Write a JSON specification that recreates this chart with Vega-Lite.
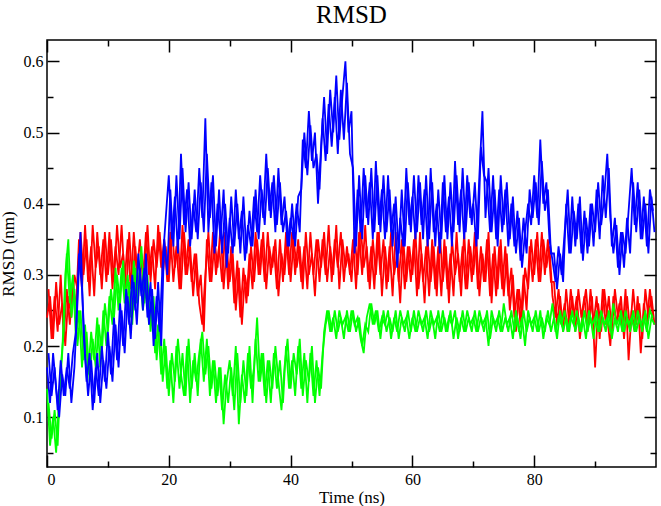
{
"$schema": "https://vega.github.io/schema/vega-lite/v6.json",
"width": 609, "height": 427,
"autosize": {"type": "none"},
"padding": {"left": 47, "top": 40, "right": 5, "bottom": 39},
"background": "white",
"title": {"text": "RMSD", "font": "Liberation Serif", "fontSize": 25, "fontWeight": "normal", "color": "#000", "anchor": "middle", "frame": "group", "offset": -9, "baseline": "alphabetic"},
"config": {
  "view": {"stroke": "#000", "strokeWidth": 1.5},
  "axis": {"domain": false, "grid": false, "labelFont": "Liberation Serif", "titleFont": "Liberation Serif", "labelFontSize": 16, "titleFontSize": 17, "titleFontWeight": "normal", "labelColor": "#000", "titleColor": "#000", "tickColor": "#000", "tickWidth": 1.5}
},
"data": {"values": [
{"p":0,"t":0,"r":0.24,"g":0.14,"b":0.17},{"p":0,"t":0.5,"r":0.27,"g":0.06,"b":0.12},{"p":0,"t":1,"r":0.21,"g":0.10,"b":0.19},{"p":0,"t":1.5,"r":0.29,"g":0.05,"b":0.14},{"p":0,"t":2,"r":0.23,"g":0.13,"b":0.10},{"p":0,"t":2.5,"r":0.26,"g":0.19,"b":0.16},{"p":0,"t":3,"r":0.20,"g":0.30,"b":0.13},{"p":0,"t":3.5,"r":0.27,"g":0.35,"b":0.19},{"p":0,"t":4,"r":0.24,"g":0.24,"b":0.12},{"p":0,"t":4.5,"r":0.30,"g":0.28,"b":0.17},
{"p":0,"t":5,"r":0.28,"g":0.20,"b":0.26},{"p":0,"t":5.5,"r":0.36,"g":0.25,"b":0.36},{"p":0,"t":6,"r":0.30,"g":0.18,"b":0.22},{"p":0,"t":6.5,"r":0.35,"g":0.22,"b":0.15},{"p":0,"t":7,"r":0.27,"g":0.15,"b":0.19},{"p":0,"t":7.5,"r":0.37,"g":0.21,"b":0.11},{"p":0,"t":8,"r":0.31,"g":0.17,"b":0.17},{"p":0,"t":8.5,"r":0.34,"g":0.23,"b":0.13},{"p":0,"t":9,"r":0.28,"g":0.19,"b":0.20},{"p":0,"t":9.5,"r":0.36,"g":0.26,"b":0.15},
{"p":0,"t":10,"r":0.30,"g":0.22,"b":0.22},{"p":0,"t":10.5,"r":0.35,"g":0.28,"b":0.16},{"p":0,"t":11,"r":0.29,"g":0.24,"b":0.24},{"p":0,"t":11.5,"r":0.37,"g":0.30,"b":0.18},{"p":0,"t":12,"r":0.31,"g":0.26,"b":0.26},{"p":0,"t":12.5,"r":0.33,"g":0.32,"b":0.20},{"p":0,"t":13,"r":0.27,"g":0.25,"b":0.28},{"p":0,"t":13.5,"r":0.36,"g":0.29,"b":0.23},{"p":0,"t":14,"r":0.29,"g":0.23,"b":0.30},{"p":0,"t":14.5,"r":0.34,"g":0.31,"b":0.25},
{"p":0,"t":15,"r":0.28,"g":0.27,"b":0.33},{"p":0,"t":15.5,"r":0.33,"g":0.34,"b":0.27},{"p":0,"t":16,"r":0.30,"g":0.26,"b":0.31},{"p":0,"t":16.5,"r":0.37,"g":0.30,"b":0.24},{"p":0,"t":17,"r":0.29,"g":0.22,"b":0.29},{"p":0,"t":17.5,"r":0.35,"g":0.27,"b":0.20},{"p":0,"t":18,"r":0.31,"g":0.18,"b":0.27},{"p":0,"t":18.5,"r":0.36,"g":0.24,"b":0.22},{"p":0,"t":19,"r":0.30,"g":0.15,"b":0.32},{"p":0,"t":19.5,"r":0.34,"g":0.20,"b":0.38},
{"p":0,"t":20,"r":0.29,"g":0.13,"b":0.44},{"p":0,"t":20.5,"r":0.37,"g":0.19,"b":0.35},{"p":0,"t":21,"r":0.31,"g":0.15,"b":0.41},{"p":0,"t":21.5,"r":0.35,"g":0.21,"b":0.33},{"p":0,"t":22,"r":0.28,"g":0.16,"b":0.47},{"p":0,"t":22.5,"r":0.36,"g":0.13,"b":0.37},{"p":0,"t":23,"r":0.30,"g":0.20,"b":0.42},{"p":0,"t":23.5,"r":0.34,"g":0.12,"b":0.34},{"p":0,"t":24,"r":0.27,"g":0.18,"b":0.40},{"p":0,"t":24.5,"r":0.33,"g":0.15,"b":0.36},
{"p":0,"t":25,"r":0.26,"g":0.19,"b":0.45},{"p":0,"t":25.5,"r":0.23,"g":0.22,"b":0.38},{"p":0,"t":26,"r":0.30,"g":0.16,"b":0.52},{"p":0,"t":26.5,"r":0.36,"g":0.20,"b":0.36},{"p":0,"t":27,"r":0.29,"g":0.14,"b":0.43},{"p":0,"t":27.5,"r":0.35,"g":0.18,"b":0.33},{"p":0,"t":28,"r":0.31,"g":0.13,"b":0.40},{"p":0,"t":28.5,"r":0.37,"g":0.17,"b":0.35},{"p":0,"t":29,"r":0.28,"g":0.09,"b":0.42},{"p":0,"t":29.5,"r":0.34,"g":0.15,"b":0.31},
{"p":0,"t":30,"r":0.29,"g":0.18,"b":0.38},{"p":0,"t":30.5,"r":0.33,"g":0.13,"b":0.33},{"p":0,"t":31,"r":0.25,"g":0.20,"b":0.42},{"p":0,"t":31.5,"r":0.31,"g":0.09,"b":0.35},{"p":0,"t":32,"r":0.23,"g":0.16,"b":0.39},{"p":0,"t":32.5,"r":0.30,"g":0.12,"b":0.32},{"p":0,"t":33,"r":0.27,"g":0.19,"b":0.37},{"p":0,"t":33.5,"r":0.34,"g":0.14,"b":0.34},{"p":0,"t":34,"r":0.29,"g":0.17,"b":0.41},{"p":0,"t":34.5,"r":0.35,"g":0.24,"b":0.36},
{"p":0,"t":35,"r":0.30,"g":0.15,"b":0.44},{"p":0,"t":35.5,"r":0.36,"g":0.19,"b":0.38},{"p":0,"t":36,"r":0.28,"g":0.12,"b":0.47},{"p":0,"t":36.5,"r":0.34,"g":0.18,"b":0.39},{"p":0,"t":37,"r":0.31,"g":0.14,"b":0.43},{"p":0,"t":37.5,"r":0.35,"g":0.20,"b":0.36},{"p":0,"t":38,"r":0.27,"g":0.15,"b":0.45},{"p":0,"t":38.5,"r":0.33,"g":0.11,"b":0.37},{"p":0,"t":39,"r":0.30,"g":0.17,"b":0.41},{"p":0,"t":39.5,"r":0.36,"g":0.21,"b":0.34},
{"p":0,"t":40,"r":0.29,"g":0.14,"b":0.38},{"p":0,"t":40.5,"r":0.35,"g":0.19,"b":0.35},{"p":0,"t":41,"r":0.31,"g":0.16,"b":0.40},{"p":0,"t":41.5,"r":0.34,"g":0.21,"b":0.36},{"p":0,"t":42,"r":0.28,"g":0.13,"b":0.49},{"p":0,"t":42.5,"r":0.36,"g":0.18,"b":0.45},{"p":0,"t":43,"r":0.30,"g":0.15,"b":0.53},{"p":0,"t":43.5,"r":0.33,"g":0.20,"b":0.46},{"p":0,"t":44,"r":0.27,"g":0.12,"b":0.50},{"p":0,"t":44.5,"r":0.35,"g":0.17,"b":0.40},
{"p":0,"t":45,"r":0.31,"g":0.14,"b":0.48},{"p":0,"t":45.5,"r":0.36,"g":0.22,"b":0.55},{"p":0,"t":46,"r":0.29,"g":0.25,"b":0.47},{"p":0,"t":46.5,"r":0.34,"g":0.22,"b":0.56},{"p":0,"t":47,"r":0.30,"g":0.24,"b":0.50},{"p":0,"t":47.5,"r":0.37,"g":0.21,"b":0.58},{"p":0,"t":48,"r":0.28,"g":0.25,"b":0.49},{"p":0,"t":48.5,"r":0.35,"g":0.23,"b":0.55},{"p":0,"t":49,"r":0.31,"g":0.24,"b":0.60},{"p":0,"t":49.5,"r":0.33,"g":0.22,"b":0.50},
{"p":0,"t":50,"r":0.29,"g":0.25,"b":0.53},{"p":0,"t":50.5,"r":0.36,"g":0.23,"b":0.33},{"p":0,"t":51,"r":0.30,"g":0.24,"b":0.42},{"p":0,"t":51.5,"r":0.37,"g":0.21,"b":0.36},{"p":0,"t":52,"r":0.31,"g":0.19,"b":0.45},{"p":0,"t":52.5,"r":0.34,"g":0.24,"b":0.38},{"p":0,"t":53,"r":0.28,"g":0.26,"b":0.43},{"p":0,"t":53.5,"r":0.35,"g":0.23,"b":0.35},{"p":0,"t":54,"r":0.30,"g":0.25,"b":0.46},{"p":0,"t":54.5,"r":0.36,"g":0.22,"b":0.37},
{"p":0,"t":55,"r":0.27,"g":0.24,"b":0.42},{"p":0,"t":55.5,"r":0.34,"g":0.23,"b":0.35},{"p":0,"t":56,"r":0.29,"g":0.25,"b":0.44},{"p":0,"t":56.5,"r":0.36,"g":0.21,"b":0.36},{"p":0,"t":57,"r":0.30,"g":0.24,"b":0.40},{"p":0,"t":57.5,"r":0.33,"g":0.22,"b":0.31},{"p":0,"t":58,"r":0.26,"g":0.25,"b":0.38},{"p":0,"t":58.5,"r":0.35,"g":0.23,"b":0.34},{"p":0,"t":59,"r":0.29,"g":0.24,"b":0.45},{"p":0,"t":59.5,"r":0.34,"g":0.21,"b":0.37},
{"p":0,"t":60,"r":0.30,"g":0.24,"b":0.41},{"p":0,"t":60.5,"r":0.36,"g":0.22,"b":0.35},{"p":0,"t":61,"r":0.28,"g":0.25,"b":0.44},{"p":0,"t":61.5,"r":0.33,"g":0.23,"b":0.37},{"p":0,"t":62,"r":0.26,"g":0.24,"b":0.42},{"p":0,"t":62.5,"r":0.35,"g":0.21,"b":0.34},{"p":0,"t":63,"r":0.29,"g":0.25,"b":0.45},{"p":0,"t":63.5,"r":0.34,"g":0.23,"b":0.36},{"p":0,"t":64,"r":0.27,"g":0.24,"b":0.40},{"p":0,"t":64.5,"r":0.36,"g":0.22,"b":0.33},
{"p":0,"t":65,"r":0.29,"g":0.25,"b":0.43},{"p":0,"t":65.5,"r":0.34,"g":0.22,"b":0.36},{"p":0,"t":66,"r":0.26,"g":0.24,"b":0.41},{"p":0,"t":66.5,"r":0.35,"g":0.23,"b":0.34},{"p":0,"t":67,"r":0.30,"g":0.25,"b":0.46},{"p":0,"t":67.5,"r":0.33,"g":0.21,"b":0.37},{"p":0,"t":68,"r":0.27,"g":0.24,"b":0.42},{"p":0,"t":68.5,"r":0.36,"g":0.22,"b":0.35},{"p":0,"t":69,"r":0.28,"g":0.25,"b":0.44},{"p":0,"t":69.5,"r":0.34,"g":0.23,"b":0.38},
{"p":0,"t":70,"r":0.30,"g":0.24,"b":0.40},{"p":0,"t":70.5,"r":0.35,"g":0.22,"b":0.34},{"p":0,"t":71,"r":0.27,"g":0.25,"b":0.44},{"p":0,"t":71.5,"r":0.33,"g":0.23,"b":0.53},{"p":0,"t":72,"r":0.29,"g":0.24,"b":0.38},{"p":0,"t":72.5,"r":0.36,"g":0.20,"b":0.45},{"p":0,"t":73,"r":0.26,"g":0.25,"b":0.36},{"p":0,"t":73.5,"r":0.34,"g":0.23,"b":0.42},{"p":0,"t":74,"r":0.28,"g":0.24,"b":0.34},{"p":0,"t":74.5,"r":0.35,"g":0.22,"b":0.44},
{"p":0,"t":75,"r":0.27,"g":0.26,"b":0.37},{"p":0,"t":75.5,"r":0.33,"g":0.23,"b":0.43},{"p":0,"t":76,"r":0.25,"g":0.24,"b":0.35},{"p":0,"t":76.5,"r":0.30,"g":0.21,"b":0.41},{"p":0,"t":77,"r":0.22,"g":0.25,"b":0.33},{"p":0,"t":77.5,"r":0.28,"g":0.22,"b":0.38},{"p":0,"t":78,"r":0.24,"g":0.24,"b":0.31},{"p":0,"t":78.5,"r":0.31,"g":0.20,"b":0.36},{"p":0,"t":79,"r":0.28,"g":0.25,"b":0.40},{"p":0,"t":79.5,"r":0.35,"g":0.23,"b":0.37},
{"p":0,"t":80,"r":0.30,"g":0.24,"b":0.44},{"p":0,"t":80.5,"r":0.36,"g":0.22,"b":0.38},{"p":0,"t":81,"r":0.29,"g":0.25,"b":0.49},{"p":0,"t":81.5,"r":0.35,"g":0.21,"b":0.40},{"p":0,"t":82,"r":0.31,"g":0.24,"b":0.43},{"p":0,"t":82.5,"r":0.34,"g":0.23,"b":0.35},{"p":0,"t":83,"r":0.27,"g":0.26,"b":0.32},{"p":0,"t":83.5,"r":0.24,"g":0.22,"b":0.29},{"p":0,"t":84,"r":0.28,"g":0.24,"b":0.34},{"p":0,"t":84.5,"r":0.23,"g":0.23,"b":0.30},
{"p":0,"t":85,"r":0.26,"g":0.25,"b":0.36},{"p":0,"t":85.5,"r":0.22,"g":0.22,"b":0.42},{"p":0,"t":86,"r":0.28,"g":0.24,"b":0.33},{"p":0,"t":86.5,"r":0.24,"g":0.23,"b":0.39},{"p":0,"t":87,"r":0.27,"g":0.25,"b":0.35},{"p":0,"t":87.5,"r":0.21,"g":0.22,"b":0.41},{"p":0,"t":88,"r":0.25,"g":0.24,"b":0.32},{"p":0,"t":88.5,"r":0.28,"g":0.21,"b":0.38},{"p":0,"t":89,"r":0.23,"g":0.25,"b":0.34},{"p":0,"t":89.5,"r":0.27,"g":0.23,"b":0.40},
{"p":0,"t":90,"r":0.17,"g":0.24,"b":0.36},{"p":0,"t":90.5,"r":0.26,"g":0.22,"b":0.43},{"p":0,"t":91,"r":0.22,"g":0.25,"b":0.37},{"p":0,"t":91.5,"r":0.28,"g":0.23,"b":0.41},{"p":0,"t":92,"r":0.24,"g":0.24,"b":0.47},{"p":0,"t":92.5,"r":0.20,"g":0.22,"b":0.38},{"p":0,"t":93,"r":0.27,"g":0.26,"b":0.33},{"p":0,"t":93.5,"r":0.23,"g":0.23,"b":0.37},{"p":0,"t":94,"r":0.26,"g":0.24,"b":0.30},{"p":0,"t":94.5,"r":0.22,"g":0.22,"b":0.36},
{"p":0,"t":95,"r":0.28,"g":0.25,"b":0.33},{"p":0,"t":95.5,"r":0.18,"g":0.23,"b":0.39},{"p":0,"t":96,"r":0.25,"g":0.24,"b":0.45},{"p":0,"t":96.5,"r":0.22,"g":0.22,"b":0.37},{"p":0,"t":97,"r":0.27,"g":0.25,"b":0.43},{"p":0,"t":97.5,"r":0.19,"g":0.23,"b":0.35},{"p":0,"t":98,"r":0.26,"g":0.24,"b":0.41},{"p":0,"t":98.5,"r":0.23,"g":0.22,"b":0.34},{"p":0,"t":99,"r":0.28,"g":0.25,"b":0.42},{"p":0,"t":99.5,"r":0.24,"g":0.24,"b":0.39},
{"p":1,"t":0.25,"r":0.28,"g":0.12,"b":0.19},{"p":1,"t":0.75,"r":0.21,"g":0.07,"b":0.13},{"p":1,"t":1.25,"r":0.27,"g":0.11,"b":0.17},{"p":1,"t":1.75,"r":0.22,"g":0.06,"b":0.11},{"p":1,"t":2.25,"r":0.30,"g":0.17,"b":0.18},{"p":1,"t":2.75,"r":0.21,"g":0.22,"b":0.13},{"p":1,"t":3.25,"r":0.28,"g":0.33,"b":0.17},{"p":1,"t":3.75,"r":0.23,"g":0.26,"b":0.14},{"p":1,"t":4.25,"r":0.29,"g":0.30,"b":0.19},{"p":1,"t":4.75,"r":0.25,"g":0.21,"b":0.22},
{"p":1,"t":5.25,"r":0.35,"g":0.25,"b":0.33},{"p":1,"t":5.75,"r":0.28,"g":0.17,"b":0.28},{"p":1,"t":6.25,"r":0.37,"g":0.23,"b":0.19},{"p":1,"t":6.75,"r":0.29,"g":0.16,"b":0.13},{"p":1,"t":7.25,"r":0.34,"g":0.22,"b":0.18},{"p":1,"t":7.75,"r":0.27,"g":0.18,"b":0.12},{"p":1,"t":8.25,"r":0.36,"g":0.24,"b":0.19},{"p":1,"t":8.75,"r":0.30,"g":0.17,"b":0.12},{"p":1,"t":9.25,"r":0.35,"g":0.25,"b":0.18},{"p":1,"t":9.75,"r":0.29,"g":0.20,"b":0.14},
{"p":1,"t":10.25,"r":0.36,"g":0.27,"b":0.20},{"p":1,"t":10.75,"r":0.28,"g":0.23,"b":0.15},{"p":1,"t":11.25,"r":0.34,"g":0.31,"b":0.23},{"p":1,"t":11.75,"r":0.30,"g":0.25,"b":0.17},{"p":1,"t":12.25,"r":0.37,"g":0.31,"b":0.25},{"p":1,"t":12.75,"r":0.29,"g":0.26,"b":0.19},{"p":1,"t":13.25,"r":0.35,"g":0.30,"b":0.27},{"p":1,"t":13.75,"r":0.28,"g":0.24,"b":0.21},{"p":1,"t":14.25,"r":0.36,"g":0.32,"b":0.29},{"p":1,"t":14.75,"r":0.30,"g":0.26,"b":0.23},
{"p":1,"t":15.25,"r":0.35,"g":0.31,"b":0.31},{"p":1,"t":15.75,"r":0.29,"g":0.25,"b":0.25},{"p":1,"t":16.25,"r":0.36,"g":0.29,"b":0.33},{"p":1,"t":16.75,"r":0.30,"g":0.23,"b":0.23},{"p":1,"t":17.25,"r":0.34,"g":0.26,"b":0.28},{"p":1,"t":17.75,"r":0.28,"g":0.19,"b":0.21},{"p":1,"t":18.25,"r":0.37,"g":0.23,"b":0.29},{"p":1,"t":18.75,"r":0.31,"g":0.16,"b":0.20},{"p":1,"t":19.25,"r":0.35,"g":0.21,"b":0.35},{"p":1,"t":19.75,"r":0.29,"g":0.14,"b":0.30},
{"p":1,"t":20.25,"r":0.36,"g":0.18,"b":0.42},{"p":1,"t":20.75,"r":0.29,"g":0.12,"b":0.34},{"p":1,"t":21.25,"r":0.34,"g":0.20,"b":0.44},{"p":1,"t":21.75,"r":0.28,"g":0.14,"b":0.35},{"p":1,"t":22.25,"r":0.37,"g":0.19,"b":0.45},{"p":1,"t":22.75,"r":0.30,"g":0.13,"b":0.36},{"p":1,"t":23.25,"r":0.35,"g":0.21,"b":0.43},{"p":1,"t":23.75,"r":0.29,"g":0.14,"b":0.35},{"p":1,"t":24.25,"r":0.33,"g":0.19,"b":0.42},{"p":1,"t":24.75,"r":0.27,"g":0.13,"b":0.35},
{"p":1,"t":25.25,"r":0.30,"g":0.21,"b":0.43},{"p":1,"t":25.75,"r":0.22,"g":0.15,"b":0.36},{"p":1,"t":26.25,"r":0.35,"g":0.21,"b":0.47},{"p":1,"t":26.75,"r":0.29,"g":0.13,"b":0.38},{"p":1,"t":27.25,"r":0.36,"g":0.18,"b":0.44},{"p":1,"t":27.75,"r":0.30,"g":0.12,"b":0.34},{"p":1,"t":28.25,"r":0.34,"g":0.17,"b":0.42},{"p":1,"t":28.75,"r":0.29,"g":0.11,"b":0.33},{"p":1,"t":29.25,"r":0.36,"g":0.16,"b":0.40},{"p":1,"t":29.75,"r":0.28,"g":0.12,"b":0.33},
{"p":1,"t":30.25,"r":0.34,"g":0.17,"b":0.41},{"p":1,"t":30.75,"r":0.26,"g":0.11,"b":0.34},{"p":1,"t":31.25,"r":0.32,"g":0.19,"b":0.40},{"p":1,"t":31.75,"r":0.24,"g":0.12,"b":0.33},{"p":1,"t":32.25,"r":0.31,"g":0.18,"b":0.41},{"p":1,"t":32.75,"r":0.26,"g":0.13,"b":0.33},{"p":1,"t":33.25,"r":0.33,"g":0.20,"b":0.39},{"p":1,"t":33.75,"r":0.28,"g":0.12,"b":0.34},{"p":1,"t":34.25,"r":0.36,"g":0.21,"b":0.42},{"p":1,"t":34.75,"r":0.30,"g":0.15,"b":0.35},
{"p":1,"t":35.25,"r":0.35,"g":0.19,"b":0.42},{"p":1,"t":35.75,"r":0.29,"g":0.13,"b":0.37},{"p":1,"t":36.25,"r":0.36,"g":0.18,"b":0.45},{"p":1,"t":36.75,"r":0.30,"g":0.12,"b":0.38},{"p":1,"t":37.25,"r":0.34,"g":0.19,"b":0.44},{"p":1,"t":37.75,"r":0.28,"g":0.14,"b":0.37},{"p":1,"t":38.25,"r":0.35,"g":0.18,"b":0.43},{"p":1,"t":38.75,"r":0.29,"g":0.12,"b":0.36},{"p":1,"t":39.25,"r":0.36,"g":0.20,"b":0.39},{"p":1,"t":39.75,"r":0.30,"g":0.14,"b":0.34},
{"p":1,"t":40.25,"r":0.36,"g":0.18,"b":0.40},{"p":1,"t":40.75,"r":0.30,"g":0.13,"b":0.34},{"p":1,"t":41.25,"r":0.35,"g":0.20,"b":0.41},{"p":1,"t":41.75,"r":0.29,"g":0.14,"b":0.42},{"p":1,"t":42.25,"r":0.34,"g":0.19,"b":0.50},{"p":1,"t":42.75,"r":0.28,"g":0.12,"b":0.44},{"p":1,"t":43.25,"r":0.36,"g":0.19,"b":0.51},{"p":1,"t":43.75,"r":0.30,"g":0.13,"b":0.45},{"p":1,"t":44.25,"r":0.35,"g":0.18,"b":0.47},{"p":1,"t":44.75,"r":0.29,"g":0.13,"b":0.42},
{"p":1,"t":45.25,"r":0.35,"g":0.19,"b":0.52},{"p":1,"t":45.75,"r":0.30,"g":0.23,"b":0.46},{"p":1,"t":46.25,"r":0.37,"g":0.25,"b":0.54},{"p":1,"t":46.75,"r":0.29,"g":0.22,"b":0.48},{"p":1,"t":47.25,"r":0.35,"g":0.25,"b":0.55},{"p":1,"t":47.75,"r":0.31,"g":0.22,"b":0.47},{"p":1,"t":48.25,"r":0.36,"g":0.24,"b":0.56},{"p":1,"t":48.75,"r":0.29,"g":0.21,"b":0.49},{"p":1,"t":49.25,"r":0.34,"g":0.25,"b":0.57},{"p":1,"t":49.75,"r":0.30,"g":0.22,"b":0.47},
{"p":1,"t":50.25,"r":0.35,"g":0.25,"b":0.45},{"p":1,"t":50.75,"r":0.28,"g":0.22,"b":0.34},{"p":1,"t":51.25,"r":0.36,"g":0.24,"b":0.44},{"p":1,"t":51.75,"r":0.30,"g":0.20,"b":0.35},{"p":1,"t":52.25,"r":0.37,"g":0.23,"b":0.44},{"p":1,"t":52.75,"r":0.29,"g":0.22,"b":0.37},{"p":1,"t":53.25,"r":0.34,"g":0.26,"b":0.45},{"p":1,"t":53.75,"r":0.28,"g":0.23,"b":0.36},{"p":1,"t":54.25,"r":0.36,"g":0.25,"b":0.44},{"p":1,"t":54.75,"r":0.30,"g":0.21,"b":0.36},
{"p":1,"t":55.25,"r":0.35,"g":0.25,"b":0.44},{"p":1,"t":55.75,"r":0.28,"g":0.22,"b":0.36},{"p":1,"t":56.25,"r":0.34,"g":0.24,"b":0.42},{"p":1,"t":56.75,"r":0.27,"g":0.22,"b":0.34},{"p":1,"t":57.25,"r":0.36,"g":0.25,"b":0.41},{"p":1,"t":57.75,"r":0.29,"g":0.21,"b":0.33},{"p":1,"t":58.25,"r":0.35,"g":0.24,"b":0.42},{"p":1,"t":58.75,"r":0.28,"g":0.22,"b":0.34},{"p":1,"t":59.25,"r":0.34,"g":0.25,"b":0.43},{"p":1,"t":59.75,"r":0.29,"g":0.22,"b":0.36},
{"p":1,"t":60.25,"r":0.35,"g":0.25,"b":0.44},{"p":1,"t":60.75,"r":0.27,"g":0.22,"b":0.36},{"p":1,"t":61.25,"r":0.36,"g":0.24,"b":0.43},{"p":1,"t":61.75,"r":0.29,"g":0.22,"b":0.35},{"p":1,"t":62.25,"r":0.34,"g":0.25,"b":0.44},{"p":1,"t":62.75,"r":0.27,"g":0.22,"b":0.35},{"p":1,"t":63.25,"r":0.35,"g":0.24,"b":0.43},{"p":1,"t":63.75,"r":0.28,"g":0.21,"b":0.34},{"p":1,"t":64.25,"r":0.34,"g":0.25,"b":0.42},{"p":1,"t":64.75,"r":0.27,"g":0.22,"b":0.35},
{"p":1,"t":65.25,"r":0.35,"g":0.24,"b":0.44},{"p":1,"t":65.75,"r":0.28,"g":0.22,"b":0.35},{"p":1,"t":66.25,"r":0.33,"g":0.25,"b":0.43},{"p":1,"t":66.75,"r":0.27,"g":0.21,"b":0.36},{"p":1,"t":67.25,"r":0.36,"g":0.24,"b":0.44},{"p":1,"t":67.75,"r":0.29,"g":0.22,"b":0.36},{"p":1,"t":68.25,"r":0.34,"g":0.25,"b":0.45},{"p":1,"t":68.75,"r":0.28,"g":0.22,"b":0.36},{"p":1,"t":69.25,"r":0.35,"g":0.24,"b":0.43},{"p":1,"t":69.75,"r":0.29,"g":0.22,"b":0.37},
{"p":1,"t":70.25,"r":0.36,"g":0.25,"b":0.43},{"p":1,"t":70.75,"r":0.28,"g":0.22,"b":0.35},{"p":1,"t":71.25,"r":0.34,"g":0.24,"b":0.48},{"p":1,"t":71.75,"r":0.29,"g":0.22,"b":0.44},{"p":1,"t":72.25,"r":0.35,"g":0.25,"b":0.43},{"p":1,"t":72.75,"r":0.27,"g":0.21,"b":0.36},{"p":1,"t":73.25,"r":0.33,"g":0.24,"b":0.44},{"p":1,"t":73.75,"r":0.27,"g":0.22,"b":0.35},{"p":1,"t":74.25,"r":0.34,"g":0.25,"b":0.42},{"p":1,"t":74.75,"r":0.28,"g":0.22,"b":0.36},
{"p":1,"t":75.25,"r":0.34,"g":0.24,"b":0.42},{"p":1,"t":75.75,"r":0.27,"g":0.22,"b":0.34},{"p":1,"t":76.25,"r":0.31,"g":0.25,"b":0.40},{"p":1,"t":76.75,"r":0.24,"g":0.22,"b":0.34},{"p":1,"t":77.25,"r":0.28,"g":0.24,"b":0.39},{"p":1,"t":77.75,"r":0.23,"g":0.21,"b":0.32},{"p":1,"t":78.25,"r":0.30,"g":0.25,"b":0.38},{"p":1,"t":78.75,"r":0.25,"g":0.22,"b":0.33},{"p":1,"t":79.25,"r":0.34,"g":0.24,"b":0.42},{"p":1,"t":79.75,"r":0.29,"g":0.22,"b":0.38},
{"p":1,"t":80.25,"r":0.35,"g":0.25,"b":0.43},{"p":1,"t":80.75,"r":0.29,"g":0.22,"b":0.37},{"p":1,"t":81.25,"r":0.36,"g":0.24,"b":0.46},{"p":1,"t":81.75,"r":0.30,"g":0.22,"b":0.39},{"p":1,"t":82.25,"r":0.35,"g":0.25,"b":0.42},{"p":1,"t":82.75,"r":0.29,"g":0.22,"b":0.33},{"p":1,"t":83.25,"r":0.29,"g":0.24,"b":0.33},{"p":1,"t":83.75,"r":0.23,"g":0.21,"b":0.28},{"p":1,"t":84.25,"r":0.27,"g":0.25,"b":0.33},{"p":1,"t":84.75,"r":0.22,"g":0.22,"b":0.29},
{"p":1,"t":85.25,"r":0.28,"g":0.24,"b":0.40},{"p":1,"t":85.75,"r":0.23,"g":0.22,"b":0.33},{"p":1,"t":86.25,"r":0.27,"g":0.25,"b":0.41},{"p":1,"t":86.75,"r":0.22,"g":0.22,"b":0.34},{"p":1,"t":87.25,"r":0.28,"g":0.24,"b":0.40},{"p":1,"t":87.75,"r":0.24,"g":0.22,"b":0.33},{"p":1,"t":88.25,"r":0.27,"g":0.25,"b":0.39},{"p":1,"t":88.75,"r":0.22,"g":0.22,"b":0.33},{"p":1,"t":89.25,"r":0.28,"g":0.24,"b":0.40},{"p":1,"t":89.75,"r":0.23,"g":0.21,"b":0.34},
{"p":1,"t":90.25,"r":0.27,"g":0.25,"b":0.42},{"p":1,"t":90.75,"r":0.21,"g":0.22,"b":0.35},{"p":1,"t":91.25,"r":0.28,"g":0.24,"b":0.44},{"p":1,"t":91.75,"r":0.23,"g":0.22,"b":0.38},{"p":1,"t":92.25,"r":0.27,"g":0.25,"b":0.45},{"p":1,"t":92.75,"r":0.22,"g":0.21,"b":0.34},{"p":1,"t":93.25,"r":0.28,"g":0.24,"b":0.38},{"p":1,"t":93.75,"r":0.24,"g":0.22,"b":0.31},{"p":1,"t":94.25,"r":0.27,"g":0.25,"b":0.36},{"p":1,"t":94.75,"r":0.21,"g":0.22,"b":0.31},
{"p":1,"t":95.25,"r":0.27,"g":0.24,"b":0.38},{"p":1,"t":95.75,"r":0.22,"g":0.22,"b":0.33},{"p":1,"t":96.25,"r":0.28,"g":0.25,"b":0.43},{"p":1,"t":96.75,"r":0.23,"g":0.22,"b":0.36},{"p":1,"t":97.25,"r":0.26,"g":0.24,"b":0.42},{"p":1,"t":97.75,"r":0.21,"g":0.22,"b":0.35},{"p":1,"t":98.25,"r":0.28,"g":0.25,"b":0.40},{"p":1,"t":98.75,"r":0.24,"g":0.21,"b":0.33},{"p":1,"t":99.25,"r":0.27,"g":0.24,"b":0.41},{"p":1,"t":99.75,"r":0.23,"g":0.23,"b":0.36}
]},
"layer": [
  {"mark": {"type": "line", "color": "#ff0000", "strokeWidth": 1.8},
   "encoding": {
     "detail": {"field": "p", "type": "nominal"},
     "x": {"field": "t", "type": "quantitative", "scale": {"domain": [0, 100], "nice": false, "zero": false},
           "axis": {"orient": "bottom", "values": [0, 20, 40, 60, 80], "format": "d", "tickSize": -12, "labelPadding": 16, "title": "Time (ns)", "titlePadding": 2}},
     "y": {"field": "r", "type": "quantitative", "scale": {"domain": [0.03, 0.63], "nice": false, "zero": false},
           "axis": {"orient": "left", "values": [0.1, 0.2, 0.3, 0.4, 0.5, 0.6], "format": ".1f", "tickSize": -12, "labelPadding": 16, "title": "RMSD (nm)", "titlePadding": 6}}
   }},
  {"mark": {"type": "line", "color": "#00ff00", "strokeWidth": 1.8},
   "encoding": {
     "detail": {"field": "p", "type": "nominal"},
     "x": {"field": "t", "type": "quantitative", "axis": {"orient": "bottom", "values": [10, 30, 50, 70, 90], "tickSize": -6, "labels": false, "title": null}},
     "y": {"field": "g", "type": "quantitative", "axis": {"orient": "left", "values": [0.05, 0.15, 0.25, 0.35, 0.45, 0.55], "tickSize": -6, "labels": false, "title": null}}
   }},
  {"mark": {"type": "line", "color": "#0000ff", "strokeWidth": 1.8},
   "encoding": {
     "detail": {"field": "p", "type": "nominal"},
     "x": {"field": "t", "type": "quantitative", "axis": {"orient": "top", "values": [0, 20, 40, 60, 80], "tickSize": -12, "labels": false, "title": null}},
     "y": {"field": "b", "type": "quantitative", "axis": {"orient": "right", "values": [0.1, 0.2, 0.3, 0.4, 0.5, 0.6], "tickSize": -12, "labels": false, "title": null}}
   }},
  {"mark": {"type": "line", "color": "#0000ff", "strokeWidth": 1.8, "opacity": 0},
   "encoding": {
     "detail": {"field": "p", "type": "nominal"},
     "x": {"field": "t", "type": "quantitative", "axis": {"orient": "top", "values": [10, 30, 50, 70, 90], "tickSize": -6, "labels": false, "title": null}},
     "y": {"field": "b", "type": "quantitative", "axis": {"orient": "right", "values": [0.05, 0.15, 0.25, 0.35, 0.45, 0.55], "tickSize": -6, "labels": false, "title": null}}
   }}
],
"resolve": {"axis": {"x": "independent", "y": "independent"}}
}
